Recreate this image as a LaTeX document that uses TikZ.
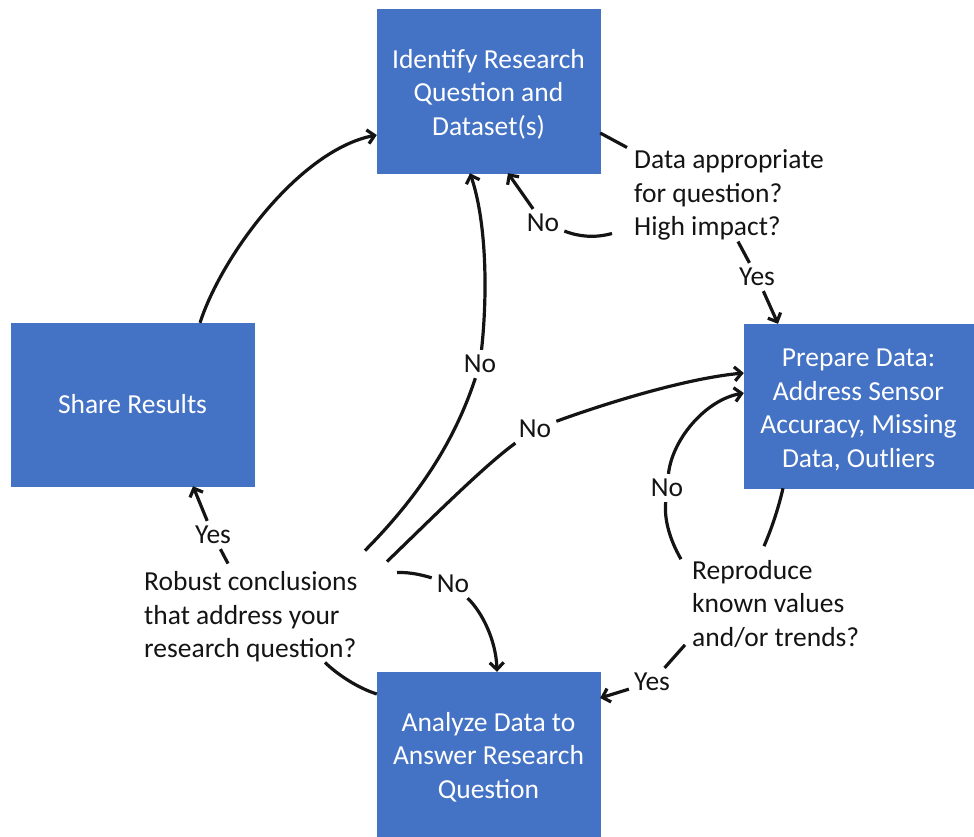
\documentclass[tikz,border=0pt]{standalone}
\usepackage{fontspec}
\setmainfont{Carlito}
\usetikzlibrary{arrows.meta,calc}
\definecolor{boxblue}{HTML}{4472C4}
\definecolor{ink}{HTML}{141414}
\newcommand{\lowstrut}{\rule{0pt}{25.5pt}}
\begin{document}
\begin{tikzpicture}[x=1pt,y=-1pt,
  box/.style={fill=boxblue, draw=boxblue, text=white, align=center, inner sep=0pt, font=\fontsize{27.5}{33.5}\selectfont},
  ques/.style={align=left, inner sep=0pt, anchor=west, font=\fontsize{27.5}{33.5}\selectfont, text=ink},
  lbl/.style={inner sep=5pt, font=\fontsize{27.5}{33.5}\selectfont, text=ink},
  conn/.style={line width=3.2pt, draw=ink},
  arr/.style={conn, -{Straight Barb[length=7pt,width=14pt]}}]
\useasboundingbox (0,0) rectangle (974,836);

% process boxes
\node[box, minimum width=223pt, minimum height=164pt] (top) at (488.5,91) {\lowstrut Identify Research\\Question and\\Dataset(s)};
\node[box, minimum width=243pt, minimum height=163pt] (share) at (132.5,404.5) {Share Results};
\node[box, minimum width=229pt, minimum height=164pt] (prep) at (858.5,406) {\lowstrut Prepare Data:\\Address Sensor\\Accuracy, Missing\\Data, Outliers};
\node[box, minimum width=223pt, minimum height=164pt] (ana) at (488.5,754) {\lowstrut Analyze Data to\\Answer Research\\Question};

% decision texts
\node[ques] (dq1) at (634,195) {Data appropriate\\for question?\\High impact?};
\node[ques] (dq2) at (144,617) {Robust conclusions\\that address your\\research question?};
\node[ques] (dq3) at (692,604) {Reproduce\\known values\\and/or trends?};

% branch labels
\node[lbl] (yes1) at (757,277) {Yes};
\node[lbl] (no1) at (543,223) {No};
\node[lbl] (no2) at (480,364) {No};
\node[lbl] (no3) at (535,429) {No};
\node[lbl] (no4) at (667,488) {No};
\node[lbl] (yes2) at (213,535) {Yes};
\node[lbl] (no5) at (453,584) {No};
\node[lbl] (yes3) at (652,682) {Yes};

% connectors
\draw[arr] ($(share.north)+(67.5,0)$) .. controls (222,255) and (300,150) .. ($(top.west)+(0,44)$);
\draw[conn] ($(top.east)+(0,42)$) -- ($(dq1.north west)+(-7,-2)$);
\draw[conn] ($(dq1.south west)+(104,1)$) -- (yes1);
\draw[arr] (yes1) -- ($(prep.north)+(-80.5,0)$);
\draw[conn] ($(dq1.south west)+(-22,-7)$) .. controls (595,238) and (580,237) .. (no1);
\draw[arr] (no1) -- ($(top.south)+(19.5,0)$);

\draw[conn] ($(dq2.north west)+(221,-21)$) .. controls (420,495) and (455,440) .. (no2);
\draw[arr] (no2) .. controls (488,290) and (486,220) .. ($(top.south)+(-18.5,0)$);
\draw[conn] ($(dq2.north west)+(243,-10)$) .. controls (430,520) and (485,465) .. (no3);
\draw[arr] (no3) .. controls (615,400) and (690,378) .. ($(prep.west)+(0,-33)$);
\draw[conn] ($(dq2.north west)+(253,1)$) .. controls (410,572) and (422,575) .. (no5);
\draw[arr] (no5) .. controls (482,612) and (496,640) .. ($(ana.north)+(8.5,0)$);
\draw[conn] ($(ana.west)+(0,-60)$) .. controls (358,688) and (338,675) .. ($(dq2.south west)+(181,0)$);
\draw[conn] ($(dq2.north west)+(84,-8)$) -- (yes2);
\draw[arr] (yes2) -- ($(share.south)+(60.5,0)$);

\draw[conn] ($(prep.south)+(-75.5,0)$) .. controls (778,510) and (771,530) .. ($(dq3.north west)+(72,-14)$);
\draw[conn] ($(dq3.north west)+(-11,-1)$) .. controls (670,540) and (664,520) .. (no4);
\draw[arr] (no4) .. controls (672,440) and (705,400) .. ($(prep.west)+(0,-13)$);
\draw[conn] ($(dq3.south west)+(-7,-3)$) -- (yes3);
\draw[arr] (yes3) -- ($(ana.east)+(0,-56)$);
\end{tikzpicture}
\end{document}
